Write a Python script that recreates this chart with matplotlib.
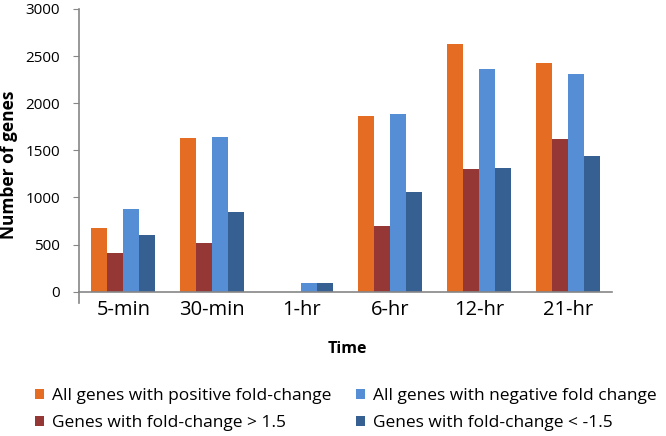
import matplotlib
matplotlib.use('Agg')
import matplotlib.pyplot as plt
import numpy as np

plt.rcParams['font.family'] = ['Open Sans', 'DejaVu Sans']

# Data
times = ['5-min', '30-min', '1-hr', '6-hr', '12-hr', '21-hr']
pos_all = [680, 1635, 0, 1868, 2626, 2428]
pos_15 = [414, 514, 0, 694, 1302, 1624]
neg_all = [881, 1645, 96, 1890, 2364, 2311]
neg_15 = [602, 846, 96, 1062, 1316, 1437]

labels = ['All genes with positive fold-change',
          'Genes with fold-change > 1.5',
          'All genes with negative fold change',
          'Genes with fold-change < -1.5']
colors = ['#E46C23', '#953735', '#558ED5', '#376092']

W, H = 666, 436
fig = plt.figure(figsize=(W / 100, H / 100), dpi=100)
ax = fig.add_axes([79 / W, 1 - 291.7 / H, (612 - 79) / W, (291.7 - 9) / H])

x = np.arange(len(times))
w = 0.18
series = [pos_all, pos_15, neg_all, neg_15]
bars = []
for i, (vals, c) in enumerate(zip(series, colors)):
    b = ax.bar(x + (i - 1.5) * w, vals, width=w, color=c, edgecolor='none')
    bars.append(b)

ax.set_xlim(-0.5, len(times) - 0.5)
ax.set_ylim(0, 3000)
ax.set_yticks(range(0, 3001, 500))
ax.set_xticks(x)
ax.set_xticklabels(times)
ax.tick_params(axis='x', length=0, pad=6, labelsize=14.5)
ax.tick_params(axis='y', length=4, color='#868686', labelsize=11, pad=9.5)
for side in ['top', 'right']:
    ax.spines[side].set_visible(False)
for side in ['left', 'bottom']:
    ax.spines[side].set_color('#868686')
    ax.spines[side].set_linewidth(1.2)
# the value axis runs a little below zero, like the Excel original
ax.plot([-0.5, -0.5], [0, -115], color='#868686', lw=1.2, clip_on=False)

fig.text(9 / W, 1 - 165 / H, 'Number of genes', rotation=90,
         ha='center', va='center', fontsize=12.5, fontweight='bold')
fig.text(347 / W, 1 - 349 / H, 'Time', ha='center', va='center',
         fontsize=11.5, fontweight='bold')

# two one-column legends so each column sits where the original has it
for k, left in enumerate([35, 356]):
    fig.legend(bars[2 * k:2 * k + 2], labels[2 * k:2 * k + 2],
               loc='center left', bbox_to_anchor=(left / W, 1 - 409.5 / H),
               frameon=False, fontsize=12.5, borderpad=0, borderaxespad=0,
               handlelength=0.52, handleheight=0.52, handletextpad=0.46,
               labelspacing=0.62)

plt.savefig('out.png', dpi=100)
plt.close()
